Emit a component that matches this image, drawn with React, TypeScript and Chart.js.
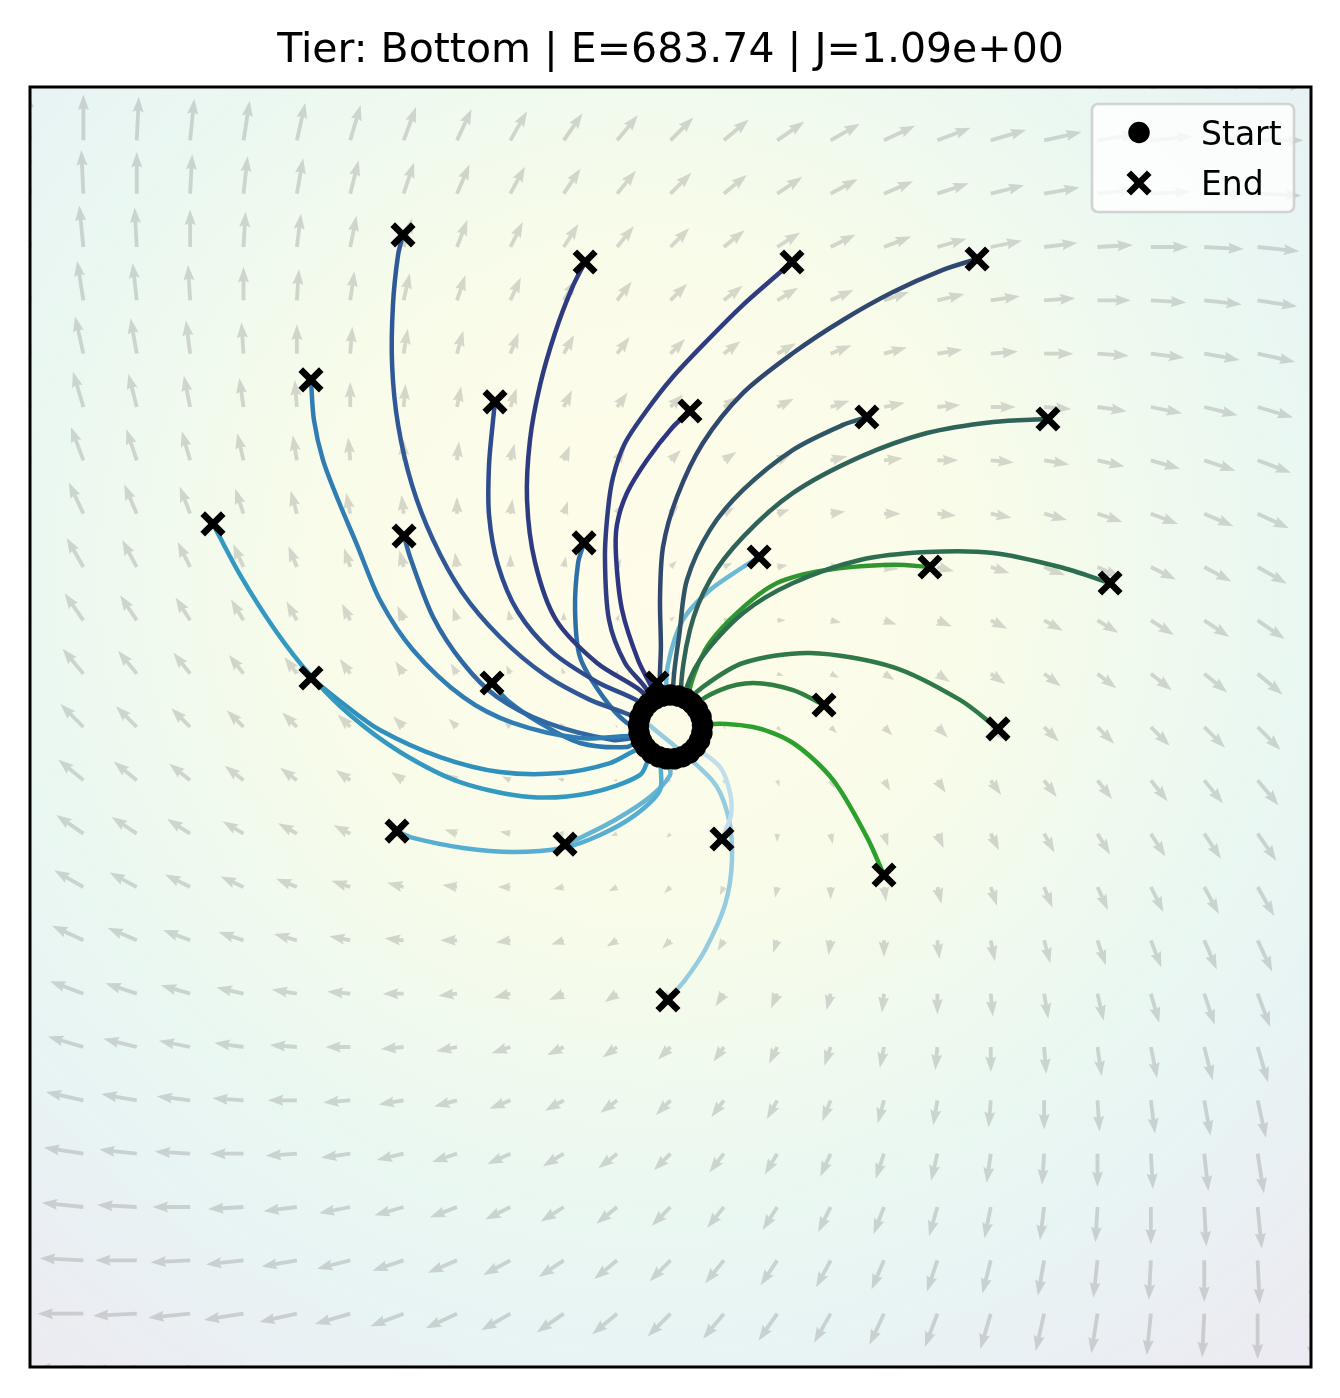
import React, { useEffect, useRef } from 'react';
import { Chart, registerables } from 'chart.js';

Chart.register(...registerables);

// ---------------- data ----------------
const TITLE = 'Tier: Bottom | E=683.74 | J=1.09e+00';
const AXIS_MIN = -3;
const AXIS_MAX = 3;

// quiver grid (tails)
const GRID_X = [-3, -2.75, -2.5, -2.25, -2, -1.75, -1.5, -1.25, -1, -0.75, -0.5, -0.25, 0, 0.25, 0.5, 0.75, 1, 1.25, 1.5, 1.75, 2, 2.25, 2.5, 2.75, 3];
const GRID_Y = [3, 2.75, 2.5, 2.25, 2, 1.75, 1.5, 1.25, 1, 0.75, 0.5, 0.25, 0, -0.25, -0.5, -0.75, -1, -1.25, -1.5, -1.75, -2, -2.25, -2.5, -2.75, -3];

// field components, rows follow GRID_Y, columns follow GRID_X
const FIELD_U = [
  [0, .25, .5, .75, 1, 1.25, 1.5, 1.75, 2, 2.25, 2.5, 2.75, 3, 3.25, 3.5, 3.75, 4, 4.25, 4.5, 4.75, 5, 5.25, 5.5, 5.75, 6],
  [-.25, 0, .25, .5, .75, 1, 1.25, 1.5, 1.75, 2, 2.25, 2.5, 2.75, 3, 3.25, 3.5, 3.75, 4, 4.25, 4.5, 4.75, 5, 5.25, 5.5, 5.75],
  [-.5, -.25, 0, .25, .5, .75, 1, 1.25, 1.5, 1.75, 2, 2.25, 2.5, 2.75, 3, 3.25, 3.5, 3.75, 4, 4.25, 4.5, 4.75, 5, 5.25, 5.5],
  [-.75, -.5, -.25, 0, .25, .5, .75, 1, 1.25, 1.5, 1.75, 2, 2.25, 2.5, 2.75, 3, 3.25, 3.5, 3.75, 4, 4.25, 4.5, 4.75, 5, 5.25],
  [-1, -.75, -.5, -.25, 0, .25, .5, .75, 1, 1.25, 1.5, 1.75, 2, 2.25, 2.5, 2.75, 3, 3.25, 3.5, 3.75, 4, 4.25, 4.5, 4.75, 5],
  [-1.25, -1, -.75, -.5, -.25, 0, .25, .5, .75, 1, 1.25, 1.5, 1.75, 2, 2.25, 2.5, 2.75, 3, 3.25, 3.5, 3.75, 4, 4.25, 4.5, 4.75],
  [-1.5, -1.25, -1, -.75, -.5, -.25, 0, .25, .5, .75, 1, 1.25, 1.5, 1.75, 2, 2.25, 2.5, 2.75, 3, 3.25, 3.5, 3.75, 4, 4.25, 4.5],
  [-1.75, -1.5, -1.25, -1, -.75, -.5, -.25, 0, .25, .5, .75, 1, 1.25, 1.5, 1.75, 2, 2.25, 2.5, 2.75, 3, 3.25, 3.5, 3.75, 4, 4.25],
  [-2, -1.75, -1.5, -1.25, -1, -.75, -.5, -.25, 0, .25, .5, .75, 1, 1.25, 1.5, 1.75, 2, 2.25, 2.5, 2.75, 3, 3.25, 3.5, 3.75, 4],
  [-2.25, -2, -1.75, -1.5, -1.25, -1, -.75, -.5, -.25, 0, .25, .5, .75, 1, 1.25, 1.5, 1.75, 2, 2.25, 2.5, 2.75, 3, 3.25, 3.5, 3.75],
  [-2.5, -2.25, -2, -1.75, -1.5, -1.25, -1, -.75, -.5, -.25, 0, .25, .5, .75, 1, 1.25, 1.5, 1.75, 2, 2.25, 2.5, 2.75, 3, 3.25, 3.5],
  [-2.75, -2.5, -2.25, -2, -1.75, -1.5, -1.25, -1, -.75, -.5, -.25, 0, .25, .5, .75, 1, 1.25, 1.5, 1.75, 2, 2.25, 2.5, 2.75, 3, 3.25],
  [-3, -2.75, -2.5, -2.25, -2, -1.75, -1.5, -1.25, -1, -.75, -.5, -.25, 0, .25, .5, .75, 1, 1.25, 1.5, 1.75, 2, 2.25, 2.5, 2.75, 3],
  [-3.25, -3, -2.75, -2.5, -2.25, -2, -1.75, -1.5, -1.25, -1, -.75, -.5, -.25, 0, .25, .5, .75, 1, 1.25, 1.5, 1.75, 2, 2.25, 2.5, 2.75],
  [-3.5, -3.25, -3, -2.75, -2.5, -2.25, -2, -1.75, -1.5, -1.25, -1, -.75, -.5, -.25, 0, .25, .5, .75, 1, 1.25, 1.5, 1.75, 2, 2.25, 2.5],
  [-3.75, -3.5, -3.25, -3, -2.75, -2.5, -2.25, -2, -1.75, -1.5, -1.25, -1, -.75, -.5, -.25, 0, .25, .5, .75, 1, 1.25, 1.5, 1.75, 2, 2.25],
  [-4, -3.75, -3.5, -3.25, -3, -2.75, -2.5, -2.25, -2, -1.75, -1.5, -1.25, -1, -.75, -.5, -.25, 0, .25, .5, .75, 1, 1.25, 1.5, 1.75, 2],
  [-4.25, -4, -3.75, -3.5, -3.25, -3, -2.75, -2.5, -2.25, -2, -1.75, -1.5, -1.25, -1, -.75, -.5, -.25, 0, .25, .5, .75, 1, 1.25, 1.5, 1.75],
  [-4.5, -4.25, -4, -3.75, -3.5, -3.25, -3, -2.75, -2.5, -2.25, -2, -1.75, -1.5, -1.25, -1, -.75, -.5, -.25, 0, .25, .5, .75, 1, 1.25, 1.5],
  [-4.75, -4.5, -4.25, -4, -3.75, -3.5, -3.25, -3, -2.75, -2.5, -2.25, -2, -1.75, -1.5, -1.25, -1, -.75, -.5, -.25, 0, .25, .5, .75, 1, 1.25],
  [-5, -4.75, -4.5, -4.25, -4, -3.75, -3.5, -3.25, -3, -2.75, -2.5, -2.25, -2, -1.75, -1.5, -1.25, -1, -.75, -.5, -.25, 0, .25, .5, .75, 1],
  [-5.25, -5, -4.75, -4.5, -4.25, -4, -3.75, -3.5, -3.25, -3, -2.75, -2.5, -2.25, -2, -1.75, -1.5, -1.25, -1, -.75, -.5, -.25, 0, .25, .5, .75],
  [-5.5, -5.25, -5, -4.75, -4.5, -4.25, -4, -3.75, -3.5, -3.25, -3, -2.75, -2.5, -2.25, -2, -1.75, -1.5, -1.25, -1, -.75, -.5, -.25, 0, .25, .5],
  [-5.75, -5.5, -5.25, -5, -4.75, -4.5, -4.25, -4, -3.75, -3.5, -3.25, -3, -2.75, -2.5, -2.25, -2, -1.75, -1.5, -1.25, -1, -.75, -.5, -.25, 0, .25],
  [-6, -5.75, -5.5, -5.25, -5, -4.75, -4.5, -4.25, -4, -3.75, -3.5, -3.25, -3, -2.75, -2.5, -2.25, -2, -1.75, -1.5, -1.25, -1, -.75, -.5, -.25, 0],
];
const FIELD_V = [
  [6, 5.75, 5.5, 5.25, 5, 4.75, 4.5, 4.25, 4, 3.75, 3.5, 3.25, 3, 2.75, 2.5, 2.25, 2, 1.75, 1.5, 1.25, 1, .75, .5, .25, 0],
  [5.75, 5.5, 5.25, 5, 4.75, 4.5, 4.25, 4, 3.75, 3.5, 3.25, 3, 2.75, 2.5, 2.25, 2, 1.75, 1.5, 1.25, 1, .75, .5, .25, 0, -.25],
  [5.5, 5.25, 5, 4.75, 4.5, 4.25, 4, 3.75, 3.5, 3.25, 3, 2.75, 2.5, 2.25, 2, 1.75, 1.5, 1.25, 1, .75, .5, .25, 0, -.25, -.5],
  [5.25, 5, 4.75, 4.5, 4.25, 4, 3.75, 3.5, 3.25, 3, 2.75, 2.5, 2.25, 2, 1.75, 1.5, 1.25, 1, .75, .5, .25, 0, -.25, -.5, -.75],
  [5, 4.75, 4.5, 4.25, 4, 3.75, 3.5, 3.25, 3, 2.75, 2.5, 2.25, 2, 1.75, 1.5, 1.25, 1, .75, .5, .25, 0, -.25, -.5, -.75, -1],
  [4.75, 4.5, 4.25, 4, 3.75, 3.5, 3.25, 3, 2.75, 2.5, 2.25, 2, 1.75, 1.5, 1.25, 1, .75, .5, .25, 0, -.25, -.5, -.75, -1, -1.25],
  [4.5, 4.25, 4, 3.75, 3.5, 3.25, 3, 2.75, 2.5, 2.25, 2, 1.75, 1.5, 1.25, 1, .75, .5, .25, 0, -.25, -.5, -.75, -1, -1.25, -1.5],
  [4.25, 4, 3.75, 3.5, 3.25, 3, 2.75, 2.5, 2.25, 2, 1.75, 1.5, 1.25, 1, .75, .5, .25, 0, -.25, -.5, -.75, -1, -1.25, -1.5, -1.75],
  [4, 3.75, 3.5, 3.25, 3, 2.75, 2.5, 2.25, 2, 1.75, 1.5, 1.25, 1, .75, .5, .25, 0, -.25, -.5, -.75, -1, -1.25, -1.5, -1.75, -2],
  [3.75, 3.5, 3.25, 3, 2.75, 2.5, 2.25, 2, 1.75, 1.5, 1.25, 1, .75, .5, .25, 0, -.25, -.5, -.75, -1, -1.25, -1.5, -1.75, -2, -2.25],
  [3.5, 3.25, 3, 2.75, 2.5, 2.25, 2, 1.75, 1.5, 1.25, 1, .75, .5, .25, 0, -.25, -.5, -.75, -1, -1.25, -1.5, -1.75, -2, -2.25, -2.5],
  [3.25, 3, 2.75, 2.5, 2.25, 2, 1.75, 1.5, 1.25, 1, .75, .5, .25, 0, -.25, -.5, -.75, -1, -1.25, -1.5, -1.75, -2, -2.25, -2.5, -2.75],
  [3, 2.75, 2.5, 2.25, 2, 1.75, 1.5, 1.25, 1, .75, .5, .25, 0, -.25, -.5, -.75, -1, -1.25, -1.5, -1.75, -2, -2.25, -2.5, -2.75, -3],
  [2.75, 2.5, 2.25, 2, 1.75, 1.5, 1.25, 1, .75, .5, .25, 0, -.25, -.5, -.75, -1, -1.25, -1.5, -1.75, -2, -2.25, -2.5, -2.75, -3, -3.25],
  [2.5, 2.25, 2, 1.75, 1.5, 1.25, 1, .75, .5, .25, 0, -.25, -.5, -.75, -1, -1.25, -1.5, -1.75, -2, -2.25, -2.5, -2.75, -3, -3.25, -3.5],
  [2.25, 2, 1.75, 1.5, 1.25, 1, .75, .5, .25, 0, -.25, -.5, -.75, -1, -1.25, -1.5, -1.75, -2, -2.25, -2.5, -2.75, -3, -3.25, -3.5, -3.75],
  [2, 1.75, 1.5, 1.25, 1, .75, .5, .25, 0, -.25, -.5, -.75, -1, -1.25, -1.5, -1.75, -2, -2.25, -2.5, -2.75, -3, -3.25, -3.5, -3.75, -4],
  [1.75, 1.5, 1.25, 1, .75, .5, .25, 0, -.25, -.5, -.75, -1, -1.25, -1.5, -1.75, -2, -2.25, -2.5, -2.75, -3, -3.25, -3.5, -3.75, -4, -4.25],
  [1.5, 1.25, 1, .75, .5, .25, 0, -.25, -.5, -.75, -1, -1.25, -1.5, -1.75, -2, -2.25, -2.5, -2.75, -3, -3.25, -3.5, -3.75, -4, -4.25, -4.5],
  [1.25, 1, .75, .5, .25, 0, -.25, -.5, -.75, -1, -1.25, -1.5, -1.75, -2, -2.25, -2.5, -2.75, -3, -3.25, -3.5, -3.75, -4, -4.25, -4.5, -4.75],
  [1, .75, .5, .25, 0, -.25, -.5, -.75, -1, -1.25, -1.5, -1.75, -2, -2.25, -2.5, -2.75, -3, -3.25, -3.5, -3.75, -4, -4.25, -4.5, -4.75, -5],
  [.75, .5, .25, 0, -.25, -.5, -.75, -1, -1.25, -1.5, -1.75, -2, -2.25, -2.5, -2.75, -3, -3.25, -3.5, -3.75, -4, -4.25, -4.5, -4.75, -5, -5.25],
  [.5, .25, 0, -.25, -.5, -.75, -1, -1.25, -1.5, -1.75, -2, -2.25, -2.5, -2.75, -3, -3.25, -3.5, -3.75, -4, -4.25, -4.5, -4.75, -5, -5.25, -5.5],
  [.25, 0, -.25, -.5, -.75, -1, -1.25, -1.5, -1.75, -2, -2.25, -2.5, -2.75, -3, -3.25, -3.5, -3.75, -4, -4.25, -4.5, -4.75, -5, -5.25, -5.5, -5.75],
  [0, -.25, -.5, -.75, -1, -1.25, -1.5, -1.75, -2, -2.25, -2.5, -2.75, -3, -3.25, -3.5, -3.75, -4, -4.25, -4.5, -4.75, -5, -5.25, -5.5, -5.75, -6],
];

// trajectories: first point = start (on the launch ring), last point = end
const TRAJ_A = [[0.019, -0.149], [-0.084, -0.124], [-0.143, -0.225], [-0.377, -0.309], [-0.658, -0.328], [-0.986, -0.258], [-1.267, -0.117], [-1.501, 0.056], [-1.684, 0.239], [-1.852, 0.455], [-2.016, 0.713], [-2.143, 0.952]];
const TRAJ_B = [[-0.018, -0.149], [-0.117, -0.094], [-0.283, -0.169], [-0.518, -0.216], [-0.799, -0.211], [-1.079, -0.141], [-1.361, -0.014], [-1.525, 0.103], [-1.684, 0.230]];
const TRAJ_C = [[-0.115, -0.096], [-0.143, -0.044], [-0.424, -0.052], [-0.738, 0.019], [-0.972, 0.141], [-1.206, 0.361], [-1.361, 0.595], [-1.468, 0.853], [-1.557, 1.064], [-1.628, 1.252], [-1.670, 1.439], [-1.684, 1.627]];
const TRAJ_D = [[-0.088, -0.122], [-0.140, -0.054], [-0.269, -0.061], [-0.578, 0.019], [-0.813, 0.141], [-0.972, 0.300], [-1.112, 0.516], [-1.220, 0.797], [-1.248, 0.895]];
const TRAJ_K = [[-0.055, -0.140], [-0.137, -0.061], [-0.204, -0.094], [-0.424, -0.075], [-0.611, 0.019], [-0.766, 0.127], [-0.836, 0.206]];
const TRAJ_E = [[-0.147, -0.029], [-0.146, 0.034], [-0.377, 0.127], [-0.588, 0.244], [-0.799, 0.422], [-0.977, 0.633], [-1.112, 0.877], [-1.211, 1.135], [-1.276, 1.416], [-1.304, 1.697], [-1.300, 1.978], [-1.276, 2.213], [-1.253, 2.307]];
const TRAJ_F = [[-0.150, 0.009], [-0.115, 0.096], [-0.344, 0.211], [-0.555, 0.352], [-0.714, 0.539], [-0.808, 0.759], [-0.850, 0.994], [-0.850, 1.228], [-0.831, 1.439], [-0.822, 1.524]];
const TRAJ_G = [[-0.127, 0.080], [-0.098, 0.113], [-0.143, 0.173], [-0.344, 0.300], [-0.536, 0.502], [-0.635, 0.774], [-0.672, 1.064], [-0.658, 1.346], [-0.611, 1.603], [-0.541, 1.847], [-0.461, 2.058], [-0.400, 2.180]];
const TRAJ_H = [[-0.073, 0.131], [-0.082, 0.173], [-0.152, 0.314], [-0.227, 0.549], [-0.255, 0.797], [-0.251, 0.947], [-0.204, 1.097], [-0.110, 1.252], [0.007, 1.402], [0.091, 1.481]];
const TRAJ_I = [[-0.103, 0.109], [-0.110, 0.173], [-0.213, 0.300], [-0.288, 0.502], [-0.307, 0.797], [-0.293, 1.017], [-0.269, 1.172], [-0.213, 1.331], [-0.110, 1.486], [0.007, 1.636], [0.152, 1.791], [0.340, 1.979], [0.499, 2.119], [0.569, 2.180]];
const TRAJ_J = [[-0.136, -0.064], [-0.149, 0.013], [-0.204, 0.019], [-0.316, 0.141], [-0.424, 0.328], [-0.447, 0.549], [-0.433, 0.769], [-0.405, 0.863]];
const TRAJ_L = [[0.056, -0.139], [-0.039, -0.145], [-0.049, -0.295], [-0.166, -0.413], [-0.330, -0.506], [-0.504, -0.567], [-0.738, -0.586], [-0.972, -0.567], [-1.206, -0.520], [-1.281, -0.488]];
const TRAJ_M = [[0.089, -0.121], [-0.005, -0.150], [-0.002, -0.225], [-0.096, -0.328], [-0.260, -0.436], [-0.424, -0.520], [-0.494, -0.549]];
const TRAJ_N = [[-0.001, 0.150], [-0.046, 0.143], [-0.045, 0.384], [-0.049, 0.609], [-0.035, 0.844], [0.030, 1.078], [0.152, 1.331], [0.340, 1.566], [0.574, 1.753], [0.808, 1.908], [1.042, 2.039], [1.276, 2.143], [1.436, 2.194]];
const TRAJ_O = [[0.072, 0.132], [0.013, 0.149], [0.044, 0.455], [0.077, 0.689], [0.185, 0.924], [0.340, 1.111], [0.574, 1.299], [0.808, 1.416], [0.920, 1.453]];
const TRAJ_P = [[0.102, 0.110], [0.049, 0.142], [0.091, 0.455], [0.185, 0.689], [0.340, 0.891], [0.574, 1.097], [0.888, 1.266], [1.201, 1.378], [1.511, 1.430], [1.768, 1.444]];
const TRAJ_Q = [[0.126, 0.081], [0.066, 0.135], [0.138, 0.314], [0.340, 0.534], [0.574, 0.675], [0.888, 0.783], [1.201, 0.820], [1.511, 0.816], [1.824, 0.750], [2.059, 0.675]];
const TRAJ_R = [[0.143, 0.047], [0.082, 0.126], [0.162, 0.361], [0.311, 0.534], [0.499, 0.675], [0.733, 0.736], [1.042, 0.760], [1.215, 0.750]];
const TRAJ_S = [[0.037, 0.145], [-0.013, 0.149], [-0.012, 0.291], [0.058, 0.502], [0.185, 0.642], [0.340, 0.750], [0.415, 0.797]];
const TRAJ_T = [[0.150, 0.010], [0.092, 0.118], [0.152, 0.188], [0.340, 0.300], [0.653, 0.347], [1.042, 0.281], [1.356, 0.127], [1.534, -0.009]];
const TRAJ_U = [[0.147, -0.028], [0.117, 0.094], [0.232, 0.173], [0.387, 0.206], [0.574, 0.173], [0.719, 0.103]];
const TRAJ_V = [[0.136, -0.063], [0.150, 0.008], [0.387, 0.000], [0.574, -0.075], [0.761, -0.248], [0.920, -0.516], [1.000, -0.694]];
const TRAJ_W = [[0.116, -0.095], [0.232, -0.188], [0.279, -0.309], [0.283, -0.413], [0.241, -0.525]];
const TRAJ_X = [[-0.143, 0.046], [0.194, -0.248], [0.269, -0.413], [0.288, -0.624], [0.255, -0.834], [0.162, -1.045], [0.068, -1.186], [-0.012, -1.280]];
const TRAJ_Z = [[-0.038, 0.145], [-0.063, 0.206]];

const TRAJECTORIES = [TRAJ_A, TRAJ_B, TRAJ_C, TRAJ_D, TRAJ_K, TRAJ_E, TRAJ_F, TRAJ_G, TRAJ_H, TRAJ_I, TRAJ_J, TRAJ_L, TRAJ_M, TRAJ_N, TRAJ_O, TRAJ_P, TRAJ_Q, TRAJ_R, TRAJ_S, TRAJ_T, TRAJ_U, TRAJ_V, TRAJ_W, TRAJ_X, TRAJ_Z];

// ---------------- styles ----------------
const TRAJ_COLORS = [
  '#3399c1', '#2f8fbd', '#2f7db2', '#2f68a2', '#2c78ad', '#305897', '#2f4b8f', '#2e3b80',
  '#2e3682', '#2f3c80', '#2e6fa8', '#58aed0', '#66b5d5', '#30486f', '#2f5567', '#2f6259',
  '#2e6e50', '#2f962f', '#6cb9d6', '#2f7848', '#2f8040', '#2ca02c', '#c0dfeb', '#96cce0', '#2f4f8f',
];
const ARROW_SCALE = 0.039; // data units per field unit
const ARROW_STYLE = { shaft: 3.8, headLength: 15.5, headWidth: 11, headAxisLength: 14, color: 'rgba(128,128,128,0.3)' };
const BG_CENTER = [-0.1, 0.7];
const BG_STOPS: [number, string][] = [
  [0, 'rgba(253,231,37,0.1)'],
  [1.5, 'rgba(200,224,40,0.1)'],
  [2.2, 'rgba(120,208,82,0.1)'],
  [2.9, 'rgba(53,183,121,0.1)'],
  [3.5, 'rgba(31,154,138,0.1)'],
  [4.0, 'rgba(45,112,142,0.1)'],
  [4.7, 'rgba(70,50,126,0.1)'],
];
const LINE_WIDTH = 4.5;
const FRAME_WIDTH = 3;

function drawArrow(ctx: CanvasRenderingContext2D, x0: number, y0: number, x1: number, y1: number) {
  const dx = x1 - x0, dy = y1 - y0;
  const L = Math.hypot(dx, dy);
  if (L < 0.5) return;
  let w = ARROW_STYLE.shaft, hl = ARROW_STYLE.headLength, hw = ARROW_STYLE.headWidth, hal = ARROW_STYLE.headAxisLength;
  if (L < hl) {
    const s = L / hl;
    w *= s; hl *= s; hw *= s; hal *= s;
  }
  ctx.save();
  ctx.translate(x0, y0);
  ctx.rotate(Math.atan2(dy, dx));
  ctx.beginPath();
  ctx.moveTo(0, -w / 2);
  ctx.lineTo(L - hal, -w / 2);
  ctx.lineTo(L - hl, -hw / 2);
  ctx.lineTo(L, 0);
  ctx.lineTo(L - hl, hw / 2);
  ctx.lineTo(L - hal, w / 2);
  ctx.lineTo(0, w / 2);
  ctx.closePath();
  ctx.fill();
  ctx.restore();
}

const fieldPlugin = {
  id: 'fieldPlugin',
  beforeDatasetsDraw(chart: any) {
    const { ctx, chartArea: a, scales } = chart;
    const xs = scales.x, ys = scales.y;
    ctx.save();
    ctx.beginPath();
    ctx.rect(a.left, a.top, a.right - a.left, a.bottom - a.top);
    ctx.clip();
    ctx.fillStyle = '#ffffff';
    ctx.fillRect(a.left, a.top, a.right - a.left, a.bottom - a.top);
    const cx = xs.getPixelForValue(BG_CENTER[0]);
    const cy = ys.getPixelForValue(BG_CENTER[1]);
    const unit = xs.getPixelForValue(1) - xs.getPixelForValue(0);
    const rMax = BG_STOPS[BG_STOPS.length - 1][0] * unit;
    const g = ctx.createRadialGradient(cx, cy, 0, cx, cy, rMax);
    BG_STOPS.forEach(([r, c]) => g.addColorStop((r * unit) / rMax, c));
    ctx.fillStyle = g;
    ctx.fillRect(a.left, a.top, a.right - a.left, a.bottom - a.top);

    ctx.fillStyle = ARROW_STYLE.color;
    for (let j = 0; j < GRID_Y.length; j++) {
      for (let i = 0; i < GRID_X.length; i++) {
        const x0 = GRID_X[i], y0 = GRID_Y[j];
        const u = FIELD_U[j][i] * ARROW_SCALE, v = FIELD_V[j][i] * ARROW_SCALE;
        drawArrow(ctx, xs.getPixelForValue(x0), ys.getPixelForValue(y0), xs.getPixelForValue(x0 + u), ys.getPixelForValue(y0 + v));
      }
    }
    ctx.restore();
  },
};

const legendPlugin = {
  id: 'boxLegend',
  afterDatasetsDraw(chart: any) {
    const { ctx, chartArea: a } = chart;
    const boxW = 202, boxH = 108;
    const bx = a.right - 17 - boxW, by = a.top + 17;
    ctx.save();
    ctx.beginPath();
    ctx.roundRect(bx, by, boxW, boxH, 6);
    ctx.fillStyle = 'rgba(255,255,255,0.8)';
    ctx.fill();
    ctx.lineWidth = 2.7;
    ctx.strokeStyle = 'rgba(204,204,204,0.85)';
    ctx.stroke();
    const items = chart.data.datasets.filter((d: any) => d.label === 'Start' || d.label === 'End');
    ctx.font = '33px "DejaVu Sans"';
    ctx.textBaseline = 'alphabetic';
    ctx.textAlign = 'left';
    items.forEach((d: any, k: number) => {
      const hx = bx + 47, hy = by + 28.5 + k * 50.5;
      ctx.fillStyle = '#000';
      ctx.strokeStyle = '#000';
      if (d.pointStyle === 'circle') {
        ctx.beginPath();
        ctx.arc(hx, hy, d.pointRadius, 0, Math.PI * 2);
        ctx.fill();
      } else {
        const o = d.pointRadius * Math.SQRT1_2;
        ctx.lineWidth = d.pointBorderWidth;
        ctx.beginPath();
        ctx.moveTo(hx - o, hy - o); ctx.lineTo(hx + o, hy + o);
        ctx.moveTo(hx + o, hy - o); ctx.lineTo(hx - o, hy + o);
        ctx.stroke();
      }
      ctx.fillText(d.label, bx + 109, hy + 12);
    });
    ctx.restore();
  },
};

const framePlugin = {
  id: 'frame',
  afterDraw(chart: any) {
    const { ctx, chartArea: a } = chart;
    ctx.save();
    ctx.lineWidth = FRAME_WIDTH;
    ctx.strokeStyle = '#000';
    ctx.strokeRect(a.left, a.top, a.right - a.left, a.bottom - a.top);
    ctx.restore();
  },
};

export default function App() {
  const ref = useRef<HTMLCanvasElement>(null);
  useEffect(() => {
    const lineSets = TRAJECTORIES.map((t, k) => ({
      type: 'line',
      label: 'traj' + k,
      data: t.map(([x, y]) => ({ x, y })),
      showLine: true,
      fill: false,
      borderColor: TRAJ_COLORS[k],
      backgroundColor: TRAJ_COLORS[k],
      borderWidth: LINE_WIDTH,
      pointRadius: 0,
      tension: 0.3,
      borderJoinStyle: 'round',
      order: 2,
    }));
    const startSet = {
      label: 'Start',
      data: TRAJECTORIES.map((t) => ({ x: t[0][0], y: t[0][1] })),
      showLine: false,
      pointStyle: 'circle',
      pointRadius: 10.75,
      pointBorderWidth: 0,
      backgroundColor: '#000',
      borderColor: '#000',
      order: 0,
    };
    const endSet = {
      label: 'End',
      data: TRAJECTORIES.map((t) => ({ x: t[t.length - 1][0], y: t[t.length - 1][1] })),
      showLine: false,
      pointStyle: 'crossRot',
      pointRadius: 14.5,
      pointBorderWidth: 6.5,
      backgroundColor: '#000',
      borderColor: '#000',
      order: 1,
    };
    const chart = new Chart(ref.current as HTMLCanvasElement, {
      type: 'scatter',
      data: { datasets: [...lineSets, startSet, endSet] as any },
      options: {
        responsive: false,
        animation: false,
        devicePixelRatio: 1,
        events: [],
        layout: { padding: { left: 30, right: 29, top: 0, bottom: 31 } },
        scales: {
          x: { type: 'linear', min: AXIS_MIN, max: AXIS_MAX, display: false },
          y: { type: 'linear', min: AXIS_MIN, max: AXIS_MAX, display: false },
        },
        plugins: {
          legend: { display: false },
          tooltip: { enabled: false },
          title: {
            display: true,
            text: TITLE,
            color: '#000',
            font: { family: 'DejaVu Sans', size: 41, weight: 'normal', lineHeight: 1.2 },
            padding: { top: 26.4, bottom: 11.4 },
          },
        },
      } as any,
      plugins: [fieldPlugin, legendPlugin, framePlugin],
    });
    return () => chart.destroy();
  }, []);
  return (
    <div style={{ position: 'absolute', left: 0, top: 0, width: 1340, height: 1398, background: '#fff' }}>
      <canvas ref={ref} width={1340} height={1398} style={{ display: 'block', width: 1340, height: 1398 }} />
    </div>
  );
}
